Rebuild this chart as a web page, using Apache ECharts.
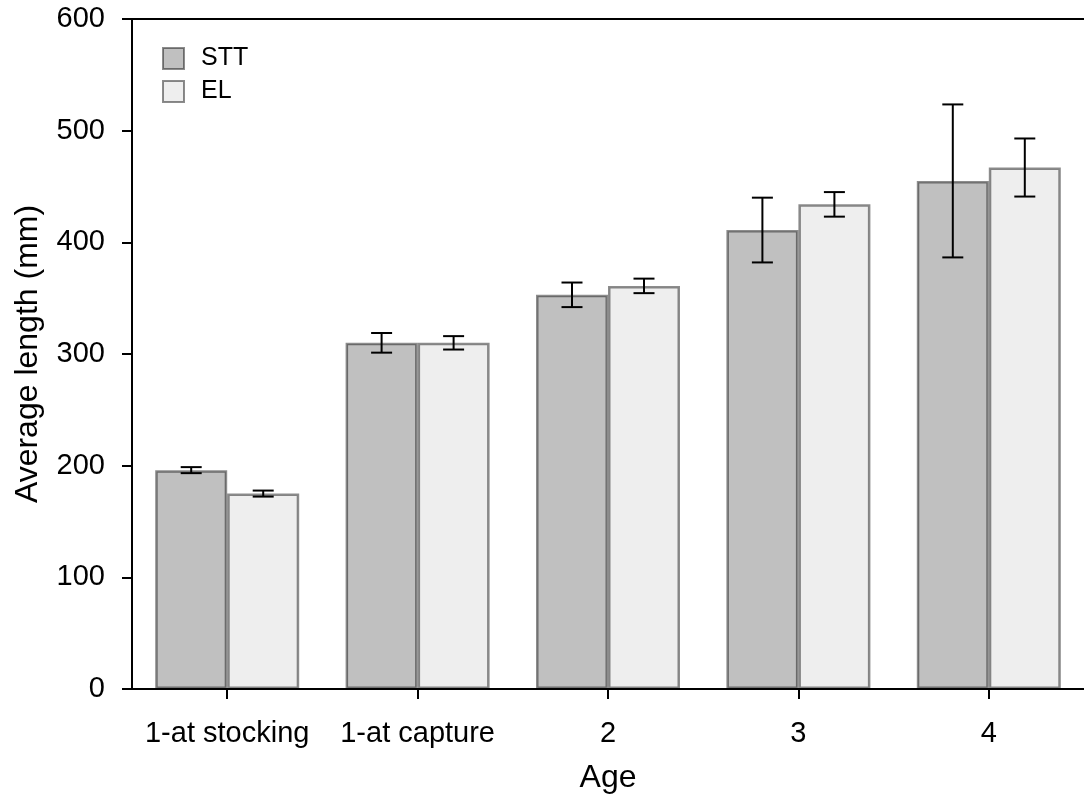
<!DOCTYPE html>
<html>
<head>
<meta charset="utf-8">
<script src="https://cdn.jsdelivr.net/npm/echarts@6/dist/echarts.min.js"></script>
<style>
html,body{margin:0;padding:0;background:#fff;}
#chart{width:1084px;height:799px;}
</style>
</head>
<body>
<div id="chart"></div>
<script>
const categories = ['1-at stocking', '1-at capture', '2', '3', '4'];
const sttValues = [196, 310, 353, 411, 455];
const sttErrors = [2.7, 8.8, 11, 29, 68.5];
const elValues = [175, 310, 361, 434, 467];
const elErrors = [2.7, 6, 6.5, 11, 26];
const yTicks = [0, 100, 200, 300, 400, 500, 600];

const FONT = 'Liberation Sans, Arial, Helvetica, sans-serif';
const BAR_W = 72;

function errData(vals, errs) {
  return vals.map((v, i) => [i, v, errs[i]]);
}
function errRender(offset) {
  return function (params, api) {
    const i = api.value(0), v = api.value(1), e = api.value(2);
    const top = api.coord([i, v + e]);
    const bot = api.coord([i, v - e]);
    const x = top[0] + offset;
    const hw = 10.5;
    const st = { stroke: '#000', lineWidth: 2 };
    return {
      type: 'group',
      children: [
        { type: 'line', shape: { x1: x, y1: top[1], x2: x, y2: bot[1] }, style: st },
        { type: 'line', shape: { x1: x - hw, y1: top[1], x2: x + hw, y2: top[1] }, style: st },
        { type: 'line', shape: { x1: x - hw, y1: bot[1], x2: x + hw, y2: bot[1] }, style: st }
      ]
    };
  };
}

const chart = echarts.init(document.getElementById('chart'), null, { renderer: 'canvas' });
chart.setOption({
  backgroundColor: '#ffffff',
  animation: false,
  textStyle: { fontFamily: FONT },
  grid: { left: 132, right: -8, top: 19, bottom: 109, containLabel: false },
  legend: {
    data: ['STT', 'EL'],
    orient: 'vertical',
    left: 157,
    top: 41,
    itemWidth: 21,
    itemHeight: 21,
    itemGap: 8,
    icon: 'rect',
    textStyle: { fontSize: 25, color: '#000', fontFamily: FONT, lineHeight: 21, padding: [0, 0, 0, 12] }
  },
  xAxis: [{
    type: 'category',
    data: categories,
    position: 'bottom',
    axisLine: { show: true, lineStyle: { color: '#000', width: 2 } },
    axisTick: { show: true, alignWithLabel: true, length: 10, lineStyle: { color: '#000', width: 2 } },
    axisLabel: { fontSize: 29, color: '#000', margin: 30, fontFamily: FONT, interval: 0 },
    name: 'Age',
    nameLocation: 'middle',
    nameGap: 73,
    nameTextStyle: { fontSize: 32, color: '#000', fontFamily: FONT }
  }, {
    type: 'category',
    data: categories,
    position: 'top',
    axisLine: { show: true, lineStyle: { color: '#000', width: 2 } },
    axisTick: { show: false },
    axisLabel: { show: false }
  }],
  yAxis: {
    type: 'value',
    min: 0,
    max: 600,
    interval: 100,
    axisLine: { show: true, lineStyle: { color: '#000', width: 2 } },
    axisTick: { show: true, length: 10, lineStyle: { color: '#000', width: 2 } },
    splitLine: { show: false },
    axisLabel: { fontSize: 29, color: '#000', margin: 27, fontFamily: FONT,
      formatter: v => yTicks.includes(v) ? String(v) : '' },
    name: 'Average length (mm)',
    nameLocation: 'middle',
    nameGap: 88,
    nameTextStyle: { fontSize: 32, color: '#000', fontFamily: FONT }
  },
  series: [
    {
      name: 'STT',
      type: 'bar',
      data: sttValues,
      barWidth: BAR_W,
      barGap: '0%',
      itemStyle: { color: '#c0c0c0', borderColor: 'rgba(0,0,0,0.45)', borderWidth: 2.5 }
    },
    {
      name: 'EL',
      type: 'bar',
      data: elValues,
      barWidth: BAR_W,
      barGap: '0%',
      itemStyle: { color: '#eeeeee', borderColor: 'rgba(0,0,0,0.45)', borderWidth: 2.5 }
    },
    {
      name: 'STT-err',
      type: 'custom',
      data: errData(sttValues, sttErrors),
      encode: { x: 0, y: 1 },
      renderItem: errRender(-BAR_W / 2),
      z: 10
    },
    {
      name: 'EL-err',
      type: 'custom',
      data: errData(elValues, elErrors),
      encode: { x: 0, y: 1 },
      renderItem: errRender(BAR_W / 2),
      z: 10
    }
  ]
});
</script>
</body>
</html>
